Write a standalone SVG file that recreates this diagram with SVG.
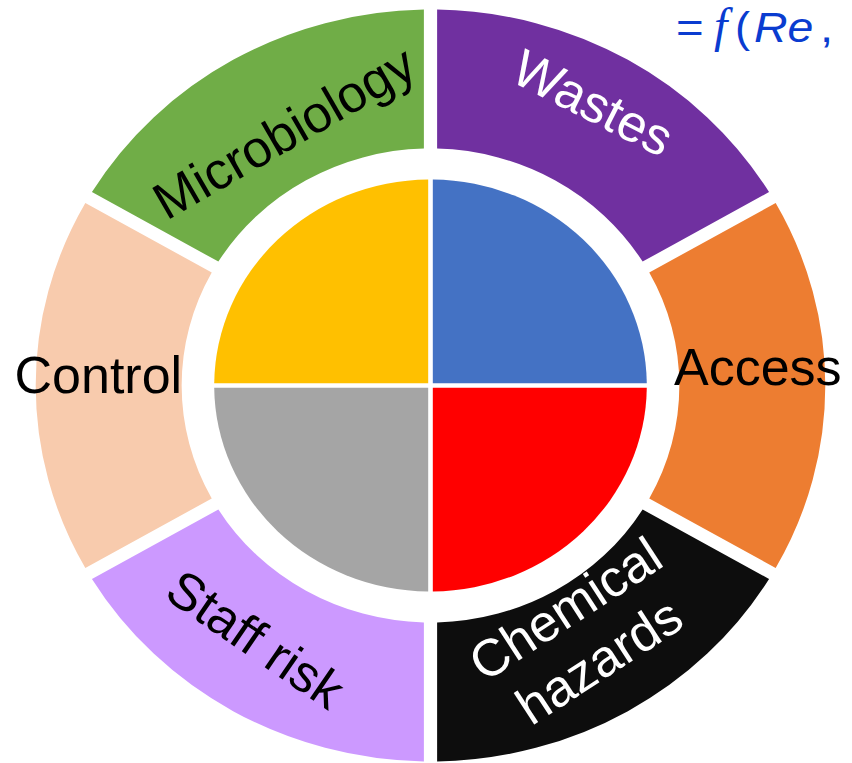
<svg xmlns="http://www.w3.org/2000/svg" width="852" height="763" viewBox="0 0 852 763">
<style>
.lbl{font-family:"Liberation Sans",Arial,sans-serif;font-size:52px}
.ctr{text-anchor:middle}
.dk{fill:#000000}
.lt{fill:#FFFFFF}
.fx{font-family:"Liberation Sans",Arial,sans-serif;font-size:43px;fill:#0A3CD0}
</style>
<rect x="0" y="0" width="852" height="763" fill="#FFFFFF"/>
<g id="chart" transform="translate(430.5,385.5) scale(1.05,1)">
  <g id="ring">
    <path id="seg-wastes" fill="#7030A0" d="M322.43,-193.43 A376,376 0 0 0 6.3,-375.95 L6.3,-236.92 A237,237 0 0 1 202.03,-123.91 Z"/>
    <path id="seg-microbiology" fill="#70AD47" d="M-6.3,-375.95 A376,376 0 0 0 -322.43,-193.43 L-202.03,-123.91 A237,237 0 0 1 -6.3,-236.92 Z"/>
    <path id="seg-control" fill="#F8CBAD" d="M-328.73,-182.52 A376,376 0 0 0 -328.73,182.52 L-208.33,113 A237,237 0 0 1 -208.33,-113 Z"/>
    <path id="seg-staff" fill="#CC99FF" d="M-322.43,193.43 A376,376 0 0 0 -6.3,375.95 L-6.3,236.92 A237,237 0 0 1 -202.03,123.91 Z"/>
    <path id="seg-chemical" fill="#0D0D0D" d="M6.3,375.95 A376,376 0 0 0 322.43,193.43 L202.03,123.91 A237,237 0 0 1 6.3,236.92 Z"/>
    <path id="seg-access" fill="#ED7D31" d="M328.73,182.52 A376,376 0 0 0 328.73,-182.52 L208.33,-113 A237,237 0 0 1 208.33,113 Z"/>
  </g>
  <g id="pie">
    <path id="q-blue" fill="#4472C4" d="M2.2,-2.2 L205.99,-2.2 A206,206 0 0 0 2.2,-205.99 Z"/>
    <path id="q-yellow" fill="#FFC000" d="M-2.2,-2.2 L-2.2,-205.99 A206,206 0 0 0 -205.99,-2.2 Z"/>
    <path id="q-gray" fill="#A5A5A5" d="M-2.2,2.2 L-205.99,2.2 A206,206 0 0 0 -2.2,205.99 Z"/>
    <path id="q-red" fill="#FF0000" d="M2.2,2.2 L2.2,205.99 A206,206 0 0 0 205.99,2.2 Z"/>
  </g>
</g>
<g id="label-microbiology"><text class="lbl ctr dk" transform="translate(293,148) rotate(-30)">Microbiology</text></g>
<g id="label-wastes"><text class="lbl ctr lt" transform="translate(585,119) rotate(27)">Wastes</text></g>
<g id="label-control"><text class="lbl dk" x="14.5" y="392.5">Control</text></g>
<g id="label-access"><text class="lbl dk" x="674" y="384.5">Access</text></g>
<g id="label-staff"><text class="lbl ctr dk" transform="translate(245.5,654) rotate(34.5)">Staff risk</text></g>
<g id="label-chemical" transform="translate(592,650) rotate(-33)">
  <text class="lbl ctr lt" x="0" y="-31">Chemical</text>
  <text class="lbl ctr lt" x="0" y="31">hazards</text>
</g>
<g id="formula">
  <text class="fx" transform="translate(676,42) scale(1.1,1)">=</text>
  <text class="fx" transform="translate(714,42)" style="font-family:'Liberation Serif','Times New Roman',serif;font-style:italic;font-size:48px">f</text>
  <text class="fx" transform="translate(735,42) scale(1.05,1)">(</text>
  <text class="fx" transform="translate(754,42) scale(1.08,1)" style="font-style:italic">Re</text>
  <text class="fx" transform="translate(820,42) scale(1.1,1)">,</text>
</g>
</svg>
